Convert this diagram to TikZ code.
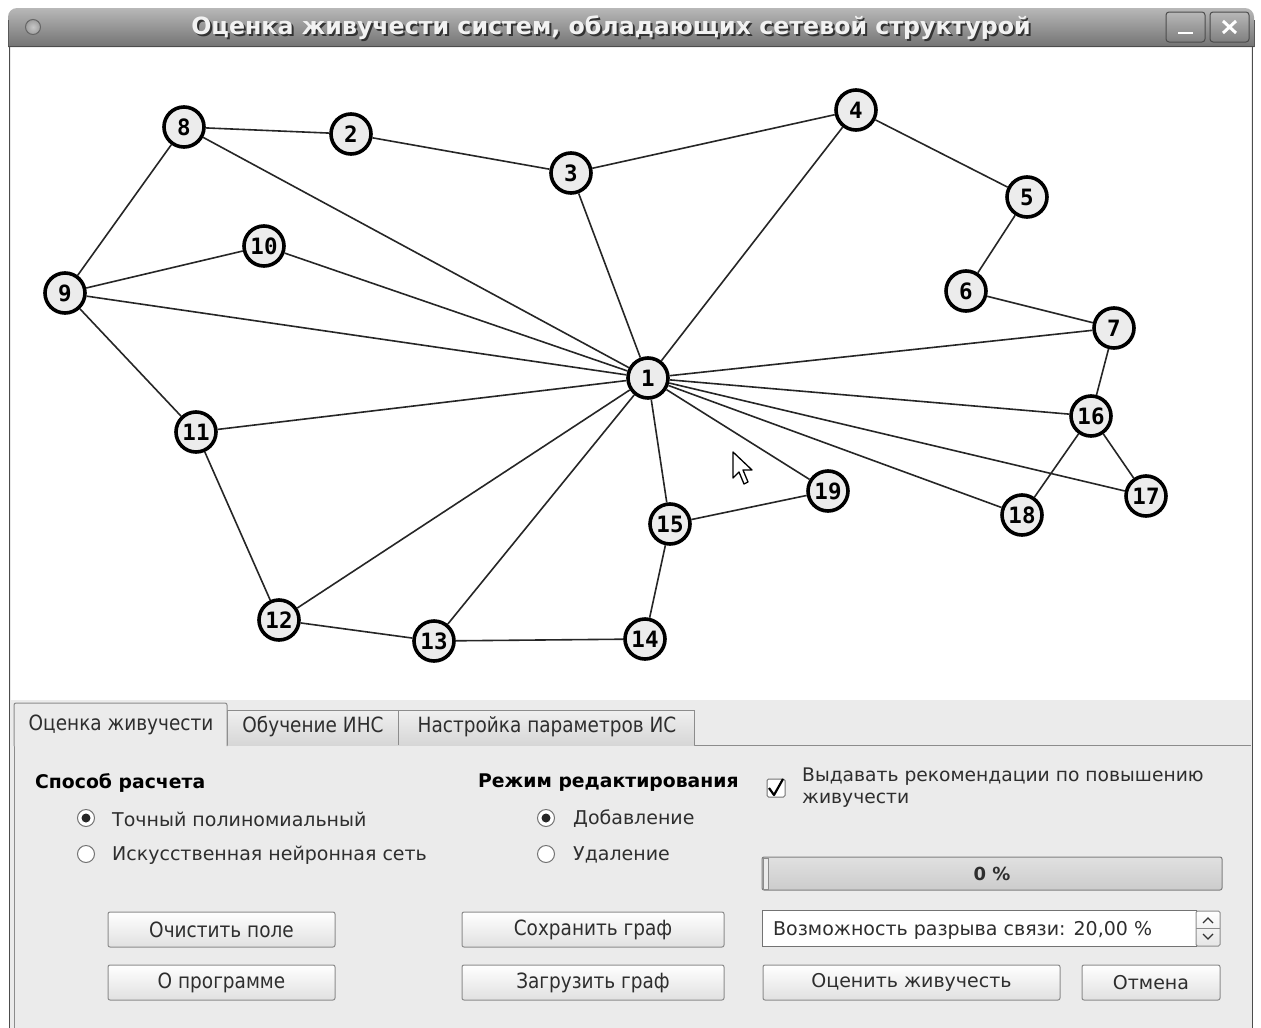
\documentclass[tikz,border=0pt]{standalone}
\usepackage{fontspec}
\setmainfont{DejaVu Sans}
\newfontfamily\condfont{DejaVu Sans}[FakeStretch=0.88]
\newfontfamily\digitfont{DejaVu Sans Mono}[BoldFont={DejaVu Sans Mono Bold}]
\usetikzlibrary{shadings}
\definecolor{panelbg}{HTML}{EBEBEB}
\definecolor{nodefill}{HTML}{ECECEC}
\definecolor{btnborder}{HTML}{8C8C8C}
\definecolor{txt}{HTML}{2E2E2E}
\tikzset{
  vertex/.style={circle, draw=black, line width=3.6pt, fill=nodefill,
    minimum size=40pt, inner sep=0pt, font=\digitfont\bfseries\fontsize{22.5}{22.5}\selectfont},
  link/.style={line width=1.6pt, draw=black!85},
  pushbtn/.style={draw=btnborder, line width=1pt, rounded corners=2pt,
    top color=white, bottom color=black!12, text=txt,
    font=\condfont\fontsize{21}{21}\selectfont, inner sep=0pt},
  label/.style={anchor=west, text=txt, inner sep=0pt, font=\fontsize{19}{19}\selectfont},
  heading/.style={anchor=west, text=black, inner sep=0pt, font=\bfseries\fontsize{18.8}{18.8}\selectfont},
  radio/.style={circle, draw=black!55, line width=1pt, fill=white, minimum size=17pt, inner sep=0pt},
  tabtxt/.style={text=txt, inner sep=0pt, font=\condfont\fontsize{21}{21}\selectfont},
}
\begin{document}
\begin{tikzpicture}[x=1pt,y=-1pt]
\useasboundingbox (0,0) rectangle (1261,1028);
\fill[white] (0,0) rectangle (1261,1028);

% window body
\fill[panelbg] (9,46) rectangle (1253,1028);
\fill[white] (11,47) rectangle (1251,700);
\draw[black!70, line width=1.5pt] (9.5,40) -- (9.5,1028);
\draw[black!70, line width=1.5pt] (1252.5,40) -- (1252.5,1028);

% title bar
\shade[top color=black!28, bottom color=black!55]
  (8,47) {[rounded corners=9pt] -- (8,8) -- (1254,8)} -- (1254,47) -- cycle;
\draw[black!65, line width=1pt] (8,47) -- (8,20) (1254,47) -- (1254,20);
\draw[black!70, line width=1pt] (8,46.5) -- (1254,46.5);
\shade[inner color=black!22, outer color=black!38] (33,27) circle (7.5pt);
\draw[black!60, line width=1pt] (33,27) circle (7.5pt);
\node[text=black!80, font=\bfseries\fontsize{23.7}{23.7}\selectfont] at (613,30)
  {Оценка живучести систем, обладающих сетевой структурой};
\node[text=white!95!black, font=\bfseries\fontsize{23.7}{23.7}\selectfont] (title) at (611,27.5)
  {Оценка живучести систем, обладающих сетевой структурой};
\draw[black!70, line width=1pt, rounded corners=3pt, top color=black!28, bottom color=black!50]
  (1166,12) rectangle (1205,42);
\draw[white, line width=2.5pt] (1178,33) -- (1193,33);
\draw[black!70, line width=1pt, rounded corners=3pt, top color=black!28, bottom color=black!50]
  (1210,12) rectangle (1249,42);
\draw[white, line width=3pt] (1223,21) -- (1236,33) (1223,33) -- (1236,21);

% graph vertices
\node[vertex] (n1)  at (648,378) {1};
\node[vertex] (n2)  at (351,134) {2};
\node[vertex] (n3)  at (571,173) {3};
\node[vertex] (n4)  at (856,110) {4};
\node[vertex] (n5)  at (1027,197) {5};
\node[vertex] (n6)  at (966,291) {6};
\node[vertex] (n7)  at (1114,328) {7};
\node[vertex] (n8)  at (184,127) {8};
\node[vertex] (n9)  at (65,293) {9};
\node[vertex] (n10) at (264,246) {10};
\node[vertex] (n11) at (196,432) {11};
\node[vertex] (n12) at (279,620) {12};
\node[vertex] (n13) at (434,641) {13};
\node[vertex] (n14) at (645,639) {14};
\node[vertex] (n15) at (670,524) {15};
\node[vertex] (n16) at (1091,416) {16};
\node[vertex] (n17) at (1146,496) {17};
\node[vertex] (n18) at (1022,515) {18};
\node[vertex] (n19) at (828,491) {19};

% graph edges
\foreach \a/\b in {8/2, 2/3, 3/4, 4/5, 5/6, 6/7, 7/16, 16/17, 16/18,
                   8/9, 9/10, 9/11, 11/12, 12/13, 13/14, 14/15, 15/19,
                   1/8, 1/10, 1/9, 1/3, 1/4, 1/11, 1/12, 1/13, 1/15,
                   1/7, 1/16, 1/17, 1/18, 1/19}
  \draw[link] (n\a) -- (n\b);

% mouse pointer
\draw[black, line width=1.3pt, fill=white, line join=round]
  (733,452) -- (733,478) -- (739,472) -- (744,484) -- (748,482) -- (743,470) -- (752,470) -- cycle;

% tabs
\draw[black!45, line width=1pt, fill=panelbg] (14,1028) -- (14,745) -- (1251,745);
\draw[black!45, line width=1pt, top color=black!6, bottom color=black!16]
  (227,745) -- (227,710) -- (694,710) -- (694,745);
\draw[black!45, line width=1pt] (398,710) -- (398,745);
\draw[black!45, line width=1pt, fill=panelbg, rounded corners=2pt]
  (14,746) -- (14,703) -- (227,703) -- (227,746);
\fill[panelbg] (15,740) rectangle (226,747);
\node[tabtxt] (t1) at (121,725) {Оценка живучести};
\node[tabtxt] (t2) at (313,727) {Обучение ИНС};
\node[tabtxt] (t3) at (547,727) {Настройка параметров ИС};

% calculation method
\node[heading] (hcalc) at (35,783) {Способ расчета};
\node[radio] (r1) at (86,818) {};
\fill[black!85] (r1) circle (4.5pt);
\node[label] at (112,819) {Точный полиномиальный};
\node[radio] (r2) at (86,854) {};
\node[label] at (112,855) {Искусственная нейронная сеть};

% edit mode
\node[heading] (hedit) at (478,783) {Режим редактирования};
\node[radio] (r3) at (546,818) {};
\fill[black!85] (r3) circle (4.5pt);
\node[label] at (573,819) {Добавление};
\node[radio] (r4) at (546,854) {};
\node[label] at (573,855) {Удаление};

% recommendations checkbox
\node[draw=black!55, line width=1pt, fill=white, minimum size=18pt, inner sep=0pt,
  rounded corners=1.5pt] (cb) at (776,788) {};
\draw[black, line width=2.2pt, line join=round] (769,788) -- (774,795) -- (783,779);
\node[label, align=left, font=\fontsize{18.7}{22}\selectfont, anchor=north west] (rec) at (802,768)
  {Выдавать рекомендации по повышению\\живучести};

% progress bar
\node[draw=black!50, line width=1pt, rounded corners=2pt, top color=black!12, bottom color=black!20,
  minimum width=460pt, minimum height=33pt, inner sep=0pt] (prog) at (992,873.5) {};
\draw[black!45, line width=1pt, fill=black!8] (763,858) rectangle (768,889);
\node[font=\bfseries\fontsize{18}{18}\selectfont, text=txt] at (prog) {0 \%};

% probability spin box
\node[draw=black!55, line width=1pt, fill=white, minimum width=434pt, minimum height=36pt,
  inner sep=0pt] (spin) at (979,928) {};
\node[label] at (773,930) {Возможность разрыва связи: 20,00 \%};
\draw[black!45, line width=1pt, top color=white, bottom color=black!10, rounded corners=1.5pt]
  (1196,911) rectangle (1220,946);
\draw[black!45, line width=0.8pt] (1196,928.5) -- (1220,928.5);
\draw[black!80, line width=1.2pt] (1203,923) -- (1208,918) -- (1213,923);
\draw[black!80, line width=1.2pt] (1203,934) -- (1208,939) -- (1213,934);

% push buttons
\node[pushbtn, minimum width=227pt, minimum height=35pt] (bclear) at (221.5,929.5) {Очистить поле};
\node[pushbtn, minimum width=227pt, minimum height=35pt] (babout) at (221.5,982.5) {О программе};
\node[pushbtn, minimum width=262pt, minimum height=35pt] (bsave) at (593,929.5) {Сохранить граф};
\node[pushbtn, minimum width=262pt, minimum height=35pt] (bload) at (593,982.5) {Загрузить граф};
\node[pushbtn, minimum width=297pt, minimum height=35pt, font=\fontsize{19}{19}\selectfont] (beval) at (911.5,982.5) {Оценить живучесть};
\node[pushbtn, minimum width=138pt, minimum height=35pt, font=\fontsize{19}{19}\selectfont] (bcancel) at (1151,982.5) {Отмена};
\end{tikzpicture}
\end{document}
